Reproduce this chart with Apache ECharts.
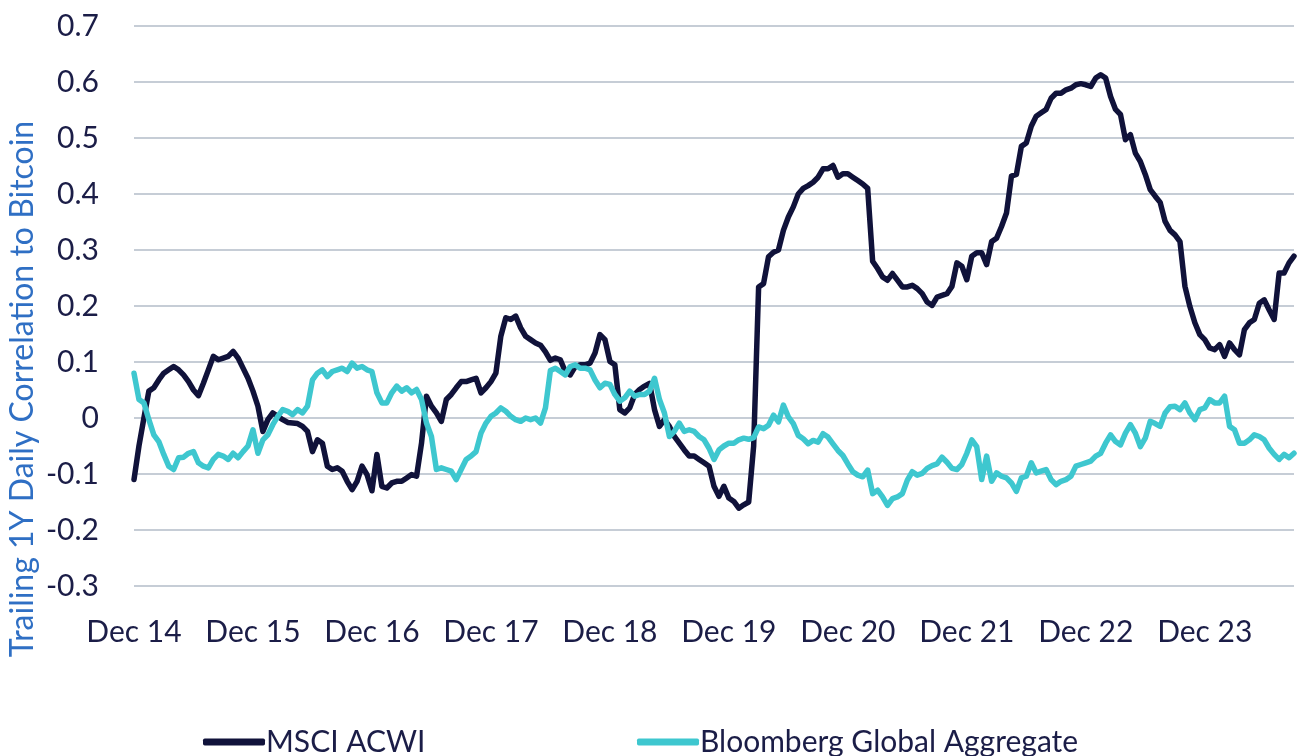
<!DOCTYPE html>
<html>
<head>
<meta charset="utf-8">
<script src="https://cdn.jsdelivr.net/npm/echarts@6/dist/echarts.min.js"></script>
<style>
  html, body { margin: 0; padding: 0; background: #ffffff; }
  #chart { width: 1298px; height: 756px; }
</style>
</head>
<body>
<div id="chart"></div>
<script>
// Tick labels for the x axis (one per December, starting Dec 2014)
var xTickLabels = ['Dec 14', 'Dec 15', 'Dec 16', 'Dec 17', 'Dec 18', 'Dec 19', 'Dec 20', 'Dec 21', 'Dec 22', 'Dec 23'];
// Sampling step of the series, in months since Dec 2014
var stepMonths = 0.5;
var lastMonth = 117; // ~Sep 2024

var seriesNames = ['MSCI ACWI', 'Bloomberg Global Aggregate'];
var yAxisTitle = 'Trailing 1Y Daily Correlation to Bitcoin';

// Trailing 1Y daily correlation to Bitcoin, sampled every half month from Dec 2014
var msciACWI = [
  -0.11,-0.05,0.0,0.048,0.054,0.068,0.08,0.086,0.092,0.086,
  0.077,0.065,0.05,0.04,0.062,0.086,0.11,0.104,0.107,0.11,
  0.119,0.107,0.089,0.071,0.048,0.021,-0.024,-0.003,0.009,0.003,
  -0.003,-0.008,-0.009,-0.01,-0.015,-0.024,-0.06,-0.039,-0.045,-0.086,
  -0.092,-0.089,-0.095,-0.113,-0.128,-0.113,-0.086,-0.101,-0.13,-0.065,
  -0.122,-0.125,-0.116,-0.113,-0.113,-0.107,-0.101,-0.104,-0.045,0.039,
  0.021,0.009,-0.006,0.033,0.042,0.054,0.065,0.065,0.068,0.071,
  0.045,0.054,0.065,0.08,0.146,0.179,0.176,0.182,0.161,0.146,
  0.14,0.134,0.13,0.118,0.103,0.107,0.104,0.083,0.077,0.092,
  0.095,0.095,0.098,0.116,0.149,0.14,0.101,0.095,0.015,0.009,
  0.018,0.042,0.051,0.057,0.062,0.015,-0.015,-0.003,-0.015,-0.033,
  -0.045,-0.057,-0.068,-0.068,-0.074,-0.08,-0.086,-0.122,-0.14,-0.122,
  -0.143,-0.149,-0.161,-0.155,-0.15,-0.05,0.234,0.24,0.288,0.296,
  0.3,0.335,0.359,0.377,0.4,0.41,0.415,0.421,0.43,0.445,
  0.445,0.451,0.43,0.436,0.436,0.43,0.424,0.418,0.41,0.28,
  0.267,0.252,0.246,0.258,0.246,0.234,0.234,0.237,0.231,0.222,
  0.207,0.201,0.216,0.219,0.222,0.235,0.277,0.271,0.247,0.289,
  0.295,0.295,0.274,0.315,0.321,0.342,0.366,0.432,0.435,0.485,
  0.491,0.521,0.539,0.545,0.551,0.571,0.58,0.58,0.586,0.589,
  0.595,0.597,0.595,0.592,0.607,0.613,0.607,0.574,0.551,0.542,
  0.497,0.506,0.473,0.458,0.435,0.408,0.396,0.385,0.351,0.335,
  0.327,0.315,0.235,0.199,0.17,0.149,0.14,0.125,0.122,0.131,
  0.11,0.134,0.122,0.113,0.158,0.17,0.176,0.205,0.211,0.193,
  0.176,0.259,0.259,0.277,0.289
];

var bloombergGlobalAgg = [
  0.08,0.033,0.027,-0.003,-0.03,-0.042,-0.065,-0.086,-0.092,-0.071,
  -0.07,-0.063,-0.06,-0.08,-0.086,-0.089,-0.074,-0.065,-0.068,-0.074,
  -0.063,-0.071,-0.06,-0.05,-0.021,-0.063,-0.039,-0.03,-0.012,0.003,
  0.015,0.012,0.006,0.015,0.009,0.021,0.068,0.08,0.086,0.074,
  0.083,0.086,0.089,0.083,0.098,0.089,0.092,0.086,0.083,0.045,
  0.027,0.027,0.045,0.057,0.048,0.054,0.045,0.051,0.033,-0.009,
  -0.033,-0.092,-0.089,-0.092,-0.095,-0.11,-0.092,-0.074,-0.068,-0.06,
  -0.027,-0.009,0.003,0.009,0.018,0.012,0.003,-0.003,-0.006,0.0,
  -0.003,0.0,-0.009,0.018,0.085,0.089,0.083,0.077,0.092,0.095,
  0.089,0.089,0.086,0.068,0.054,0.062,0.06,0.042,0.03,0.036,
  0.048,0.039,0.042,0.042,0.048,0.071,0.033,0.009,-0.033,-0.024,
  -0.009,-0.024,-0.021,-0.024,-0.033,-0.039,-0.054,-0.074,-0.057,-0.05,
  -0.045,-0.045,-0.039,-0.036,-0.038,-0.035,-0.016,-0.019,-0.013,0.005,
  -0.007,0.023,0.002,-0.01,-0.031,-0.037,-0.046,-0.04,-0.043,-0.028,
  -0.034,-0.046,-0.058,-0.067,-0.082,-0.096,-0.102,-0.105,-0.093,-0.135,
  -0.129,-0.141,-0.156,-0.144,-0.141,-0.135,-0.111,-0.096,-0.102,-0.099,
  -0.09,-0.085,-0.082,-0.07,-0.079,-0.09,-0.092,-0.083,-0.063,-0.039,
  -0.051,-0.11,-0.068,-0.113,-0.098,-0.104,-0.107,-0.116,-0.131,-0.107,
  -0.104,-0.08,-0.098,-0.095,-0.092,-0.11,-0.119,-0.113,-0.11,-0.104,
  -0.086,-0.083,-0.08,-0.077,-0.068,-0.063,-0.045,-0.03,-0.042,-0.048,
  -0.027,-0.012,-0.027,-0.051,-0.036,-0.006,-0.01,-0.015,0.009,0.02,
  0.021,0.015,0.027,0.009,-0.003,0.015,0.018,0.033,0.027,0.027,
  0.039,-0.015,-0.021,-0.045,-0.045,-0.039,-0.03,-0.033,-0.039,-0.054,
  -0.065,-0.074,-0.065,-0.071,-0.063
];

var yMin = -0.3, yMax = 0.7, yStep = 0.1;

function pairs(vals) {
  var out = [];
  for (var i = 0; i < vals.length; i++) out.push([i * stepMonths, vals[i]]);
  return out;
}

var textColor = '#1b1d47';
var fontFam = 'Lato, "Open Sans", sans-serif';

var chart = echarts.init(document.getElementById('chart'), null, { renderer: 'canvas' });
chart.setOption({
  animation: false,
  backgroundColor: '#ffffff',
  grid: { left: 134, right: 4, top: 26, bottom: 170, containLabel: false, outerBoundsMode: 'none' },
  graphic: [
    {
      type: 'text',
      x: 23, y: 389,
      rotation: Math.PI / 2,
      style: {
        text: yAxisTitle,
        fill: '#2f6fc4',
        font: '32px Lato, "Open Sans", sans-serif',
        textAlign: 'center',
        textVerticalAlign: 'middle'
      }
    }
  ],
  legend: [
    {
      data: [seriesNames[0]], left: 198, top: 722,
      icon: 'roundRect', itemWidth: 62, itemHeight: 7, itemGap: 0,
      textStyle: { color: textColor, fontSize: 30, fontFamily: fontFam, padding: [0, 0, 0, -4] }
    },
    {
      data: [seriesNames[1]], left: 632, top: 722,
      icon: 'roundRect', itemWidth: 62, itemHeight: 7, itemGap: 0,
      textStyle: { color: textColor, fontSize: 30, fontFamily: fontFam, padding: [0, 0, 0, -4] }
    }
  ],
  xAxis: {
    type: 'value',
    min: 0,
    max: lastMonth,
    interval: 12,
    axisLine: { show: false },
    axisTick: { show: false },
    splitLine: { show: false },
    axisLabel: {
      color: textColor, fontSize: 30, fontFamily: fontFam, margin: 31,
      showMaxLabel: false,
      formatter: function (v) {
        var k = Math.round(v / 12);
        return (Math.abs(v - k * 12) < 1e-6 && xTickLabels[k]) ? xTickLabels[k] : '';
      }
    }
  },
  yAxis: {
    type: 'value',
    min: yMin,
    max: yMax,
    interval: yStep,
    axisLine: { show: false },
    axisTick: { show: false },
    splitLine: { show: true, lineStyle: { color: '#c6cdd6', width: 2 } },
    axisLabel: {
      color: textColor, fontSize: 30, fontFamily: fontFam, margin: 35,
      formatter: function (v) {
        var r = Math.round(v * 10) / 10;
        return r === 0 ? '0' : r.toFixed(1);
      }
    }
  },
  series: [
    {
      name: seriesNames[0], type: 'line', data: pairs(msciACWI),
      showSymbol: false, symbol: 'none',
      lineStyle: { color: '#10123a', width: 5.5, join: 'round', cap: 'round' },
      itemStyle: { color: '#10123a' }
    },
    {
      name: seriesNames[1], type: 'line', data: pairs(bloombergGlobalAgg),
      showSymbol: false, symbol: 'none',
      lineStyle: { color: '#3ec7cf', width: 5.5, join: 'round', cap: 'round' },
      itemStyle: { color: '#3ec7cf' }
    }
  ]
});
</script>
</body>
</html>
